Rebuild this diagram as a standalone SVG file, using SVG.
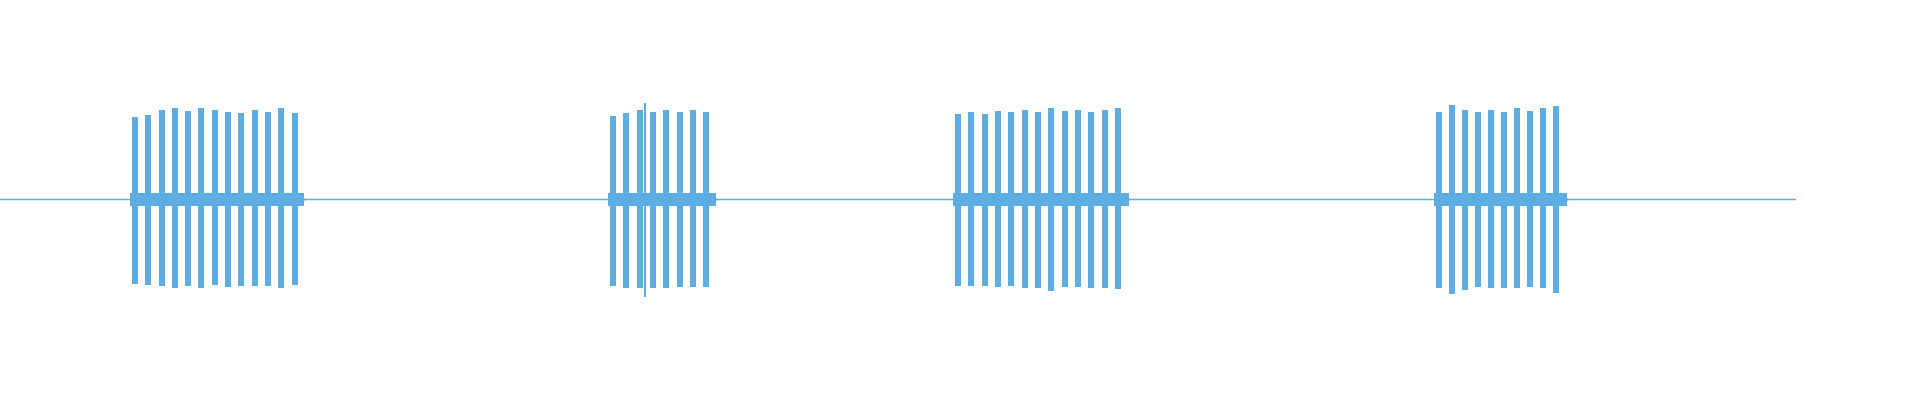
<svg xmlns="http://www.w3.org/2000/svg" width="1920" height="400" viewBox="0 0 1920 400">
<style>
.w{fill:#5dade2}
.b{fill:#5dade2}
.l{stroke:#5dade2;stroke-width:1.5;fill:none}
</style>
<rect width="1920" height="400" fill="#fff"/>
<g id="baseline"><line class="l" x1="0" y1="199.5" x2="1796" y2="199.5"/></g>
<g id="burst1">
<rect class="b" x="130" y="193" width="174" height="13"/>
<path class="b" d="M298 193 L306 199.5 L298 206 Z"/>
<rect class="w" x="132" y="117" width="6" height="167"/>
<rect class="w" x="145" y="115" width="6" height="170"/>
<rect class="w" x="159" y="110" width="6" height="176"/>
<rect class="w" x="172" y="108" width="6" height="180"/>
<rect class="w" x="185" y="111" width="6" height="175"/>
<rect class="w" x="198" y="108" width="6" height="180"/>
<rect class="w" x="212" y="110" width="6" height="175"/>
<rect class="w" x="225" y="112" width="6" height="175"/>
<rect class="w" x="238" y="113" width="6" height="173"/>
<rect class="w" x="252" y="110" width="6" height="176"/>
<rect class="w" x="265" y="112" width="6" height="174"/>
<rect class="w" x="278" y="108" width="6" height="180"/>
<rect class="w" x="292" y="113" width="6" height="172"/>
</g>
<g id="burst2">
<rect class="b" x="608" y="193" width="108" height="13"/>
<path class="b" d="M709 193 L718 199.5 L709 206 Z"/>
<rect class="w" x="610" y="116" width="6" height="170"/>
<rect class="w" x="623" y="113" width="6" height="175"/>
<rect class="w" x="637" y="110" width="6" height="178"/>
<rect class="w" x="644" y="103" width="2" height="194"/>
<rect class="w" x="650" y="112" width="6" height="176"/>
<rect class="w" x="663" y="110" width="6" height="178"/>
<rect class="w" x="677" y="112" width="6" height="175"/>
<rect class="w" x="690" y="110" width="6" height="177"/>
<rect class="w" x="703" y="112" width="6" height="175"/>
</g>
<g id="burst3">
<rect class="b" x="953" y="193" width="176" height="13"/>
<path class="b" d="M1122 193 L1131 199.5 L1122 206 Z"/>
<rect class="w" x="955" y="114" width="6" height="172"/>
<rect class="w" x="968" y="112" width="6" height="174"/>
<rect class="w" x="982" y="114" width="6" height="172"/>
<rect class="w" x="995" y="111" width="6" height="176"/>
<rect class="w" x="1008" y="112" width="6" height="174"/>
<rect class="w" x="1022" y="110" width="6" height="178"/>
<rect class="w" x="1035" y="112" width="6" height="176"/>
<rect class="w" x="1048" y="108" width="6" height="183"/>
<rect class="w" x="1062" y="111" width="6" height="176"/>
<rect class="w" x="1075" y="110" width="6" height="177"/>
<rect class="w" x="1088" y="112" width="6" height="176"/>
<rect class="w" x="1102" y="110" width="6" height="178"/>
<rect class="w" x="1115" y="108" width="6" height="181"/>
</g>
<g id="burst4">
<rect class="b" x="1434" y="193" width="133" height="13"/>
<path class="b" d="M1560 193 L1569 199.5 L1560 206 Z"/>
<rect class="w" x="1436" y="112" width="6" height="176"/>
<rect class="w" x="1449" y="105" width="6" height="189"/>
<rect class="w" x="1462" y="110" width="6" height="180"/>
<rect class="w" x="1475" y="112" width="6" height="175"/>
<rect class="w" x="1488" y="110" width="6" height="178"/>
<rect class="w" x="1501" y="112" width="6" height="176"/>
<rect class="w" x="1514" y="108" width="6" height="180"/>
<rect class="w" x="1527" y="111" width="6" height="176"/>
<rect class="w" x="1540" y="108" width="6" height="180"/>
<rect class="w" x="1553" y="106" width="6" height="187"/>
</g>
</svg>
